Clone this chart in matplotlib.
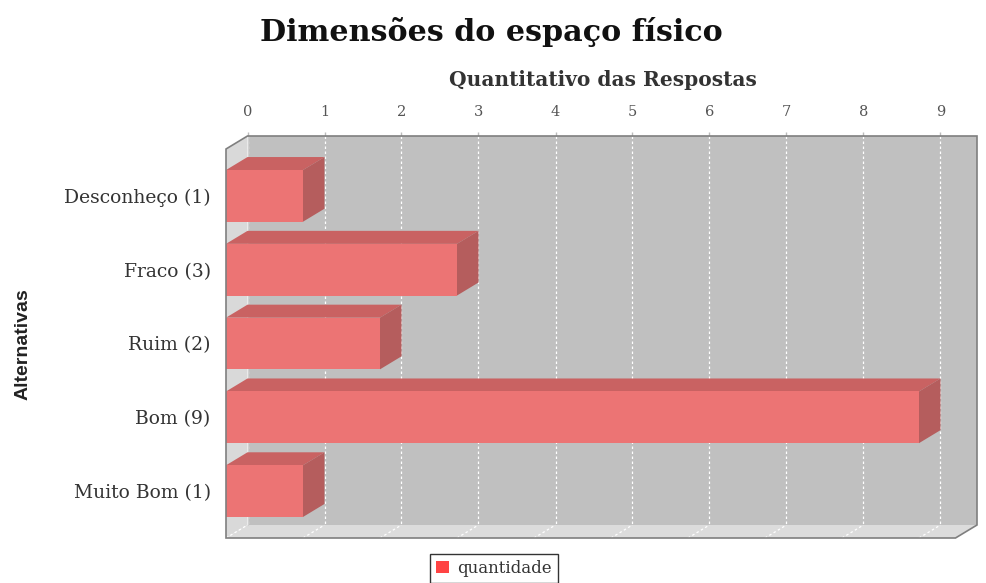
import matplotlib
matplotlib.use("Agg")
import matplotlib.pyplot as plt
from matplotlib.patches import Polygon, Rectangle

categories = ["Desconheço (1)", "Fraco (3)", "Ruim (2)", "Bom (9)", "Muito Bom (1)"]
values = [1, 3, 2, 9, 1]
ticks = list(range(0, 10))
series_name = "quantidade"
title = "Dimensões do espaço físico"
xlabel = "Quantitativo das Respostas"
ylabel = "Alternativas"

W, H = 986, 583
fig = plt.figure(figsize=(W / 100, H / 100), dpi=100)

# axes rect in pixels (front-left to back-right)
L, R, T, B = 226, 977, 136, 538
ax = fig.add_axes([L / W, 1 - B / H, (R - L) / W, (B - T) / H])
pxx = 77.0            # px per value unit
pxy = 73.8            # px per category unit
xmax = (R - L) / pxx
dx = 21.5 / pxx       # depth offset in x units
dy = 13.0 / pxy       # depth offset in y units (upward)
ymargin = 0.635
ytop = -ymargin - dy
ybot = len(categories) - 1 + ymargin
ax.set_xlim(0, xmax)
ax.set_ylim(ybot, ytop)
for s in ax.spines.values():
    s.set_visible(False)
ax.set_facecolor("none")

front_top = -ymargin
# back wall
ax.add_patch(Rectangle((dx, ytop), xmax - dx, (ybot - dy) - ytop,
                       facecolor="#c0c0c0", edgecolor="none", zorder=0))
# left wall
ax.add_patch(Polygon([(0, front_top), (dx, ytop), (dx, ybot - dy), (0, ybot)],
                     closed=True, facecolor="#d9d9d9", edgecolor="none", zorder=0))
# floor
ax.add_patch(Polygon([(0, ybot), (dx, ybot - dy), (xmax, ybot - dy), (xmax - dx, ybot)],
                     closed=True, facecolor="#dcdcdc", edgecolor="none", zorder=0))
# gridlines on back wall
for t in ticks:
    ax.plot([t + dx, t + dx], [ytop, ybot - dy], color="white", lw=0.9,
            ls=(0, (2, 2)), zorder=1)
    ax.plot([t, t + dx], [ybot, ybot - dy], color="white", lw=0.9,
            ls=(0, (2, 2)), zorder=1)
# outline
ax.add_patch(Polygon([(0, front_top), (dx, ytop), (xmax, ytop), (xmax, ybot - dy),
                      (xmax - dx, ybot), (0, ybot)], closed=True, facecolor="none",
                     edgecolor="#7f7f7f", lw=1.2, zorder=5, clip_on=False))
ax.plot([dx, dx], [ytop, ybot - dy], color="#d0d0d0", lw=0.8, zorder=1)

# bars
bh = 0.70
c_front = "#ec7474"
c_top = "#c96262"
c_side = "#b55d5d"
for i, v in enumerate(values):
    y0 = i - bh / 2
    y1 = i + bh / 2
    ax.add_patch(Polygon([(0, y0), (v, y0), (v + dx, y0 - dy), (dx, y0 - dy)],
                         closed=True, facecolor=c_top, edgecolor="none", zorder=3))
    ax.add_patch(Polygon([(v, y0), (v + dx, y0 - dy), (v + dx, y1 - dy), (v, y1)],
                         closed=True, facecolor=c_side, edgecolor="none", zorder=3))
    ax.add_patch(Rectangle((0, y0), v, bh, facecolor=c_front, edgecolor="none", zorder=4))

# ticks on top (at back plane)
ax.xaxis.set_ticks_position("top")
ax.set_xticks([t + dx for t in ticks])
ax.set_xticklabels([str(t) for t in ticks], fontfamily="DejaVu Serif",
                   fontsize=10.5, color="#555555")
ax.tick_params(axis="x", length=3, width=1, color="#bbbbbb", pad=9)
ax.set_yticks(range(len(categories)))
ax.set_yticklabels(categories, fontfamily="DejaVu Serif", fontsize=13.5, color="#333333")
ax.tick_params(axis="y", length=0, pad=11)

fig.text(603 / W, 1 - 80 / H, xlabel, ha="center", va="center",
         fontfamily="DejaVu Serif", fontweight="bold", fontsize=14.5, color="#333333")
fig.text(491 / W, 1 - 32 / H, title, ha="center", va="center",
         fontfamily="DejaVu Serif", fontweight="bold", fontsize=21.7, color="#111111")
fig.text(23 / W, 1 - 344 / H, ylabel, ha="center", va="center", rotation=90,
         fontfamily=["Liberation Sans", "DejaVu Sans"], fontweight="bold",
         fontsize=14, color="#222222")

leg = fig.legend([Rectangle((0, 0), 1, 1, facecolor="#ff4444", edgecolor="none")],
                 [series_name], loc="upper center", bbox_to_anchor=(494 / W, 1 - 554 / H),
                 borderaxespad=0, frameon=True, fancybox=False, edgecolor="black",
                 handlelength=0.8, handleheight=0.8, handletextpad=0.5, borderpad=0.35,
                 prop={"family": "DejaVu Serif", "size": 12})
leg.get_frame().set_linewidth(1.0)
for t in leg.get_texts():
    t.set_color("#333333")

fig.savefig("out.png", dpi=100)
